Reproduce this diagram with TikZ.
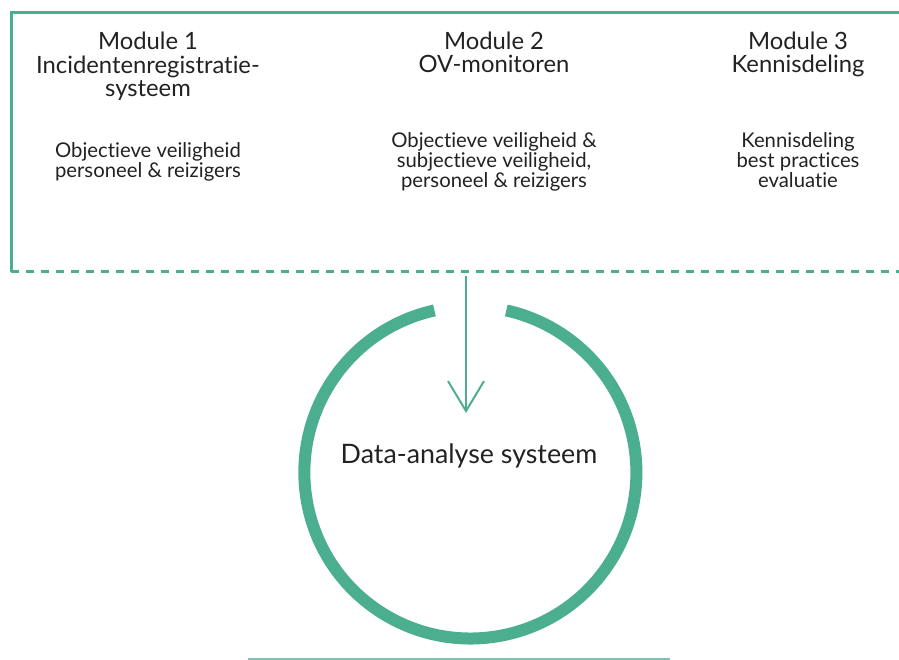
\documentclass[tikz,border=0pt]{standalone}
\usepackage{fontspec}
\setmainfont{Lato}[Ligatures=NoCommon]
\usetikzlibrary{arrows.meta}
\definecolor{teal1}{HTML}{4BAE8F}
\definecolor{teal2}{HTML}{7CC4B0}
\definecolor{txt}{HTML}{222222}
\begin{document}
\begin{tikzpicture}[x=1pt,y=-1pt,
  title/.style={text=txt,align=center,anchor=base,inner sep=0pt,font=\fontsize{23.8}{23.5}\selectfont},
  sub/.style={text=txt,align=center,anchor=base,inner sep=0pt,font=\fontsize{20.3}{20.2}\selectfont},
  frame/.style={draw=teal1,line width=3pt},
  dashline/.style={draw=teal1,line width=3pt,dash pattern=on 8pt off 7pt},
  ring/.style={draw=teal1,line width=12pt},
  flow/.style={draw=teal1,line width=2pt,-{Straight Barb[length=30pt,width=36pt,line width=2pt]}}]
\useasboundingbox (0,0) rectangle (899,660);
% frame
\coordinate (tl) at (11,13);
\coordinate (tr) at (899,13);
\coordinate (bl) at (11,272);
\coordinate (br) at (899,272);
\draw[frame] (tr) -- (tl) -- (bl);
\draw[dashline] (bl) -- (br);
% modules (anchor = baseline of last line)
\node[title] (m1) at (148,97) {Module 1\\Incidentenregistratie-\\systeem};
\node[sub] (s1) at (148,178) {Objectieve veiligheid\\personeel \& reizigers};
\node[title] (m2) at (494,73) {Module 2\\OV-monitoren};
\node[sub] (s2) at (494,188) {Objectieve veiligheid \&\\subjectieve veiligheid,\\personeel \& reizigers};
\node[title] (m3) at (798,73) {Module 3\\Kennisdeling};
\node[sub] (s3) at (798,188) {Kennisdeling\\best practices\\evaluatie};
% circle
\node[circle,minimum size=332pt,inner sep=0pt] (c) at (469,473) {};
\draw[ring] (c.102.5) arc[start angle=-102.5,end angle=-437.5,radius=166];
\node[text=txt,inner sep=0pt,anchor=base,font=\fontsize{26.8}{30}\selectfont] (d) at (469,463) {Data-analyse systeem};
% arrow
\coordinate (a0) at (466,276);
\coordinate (a1) at (466,413);
\draw[flow] (a0) -- (a1);
% bottom line
\coordinate (l0) at (248,659);
\coordinate (l1) at (670,659);
\draw[draw=teal2,line width=2pt] (l0) -- (l1);
\end{tikzpicture}
\end{document}
